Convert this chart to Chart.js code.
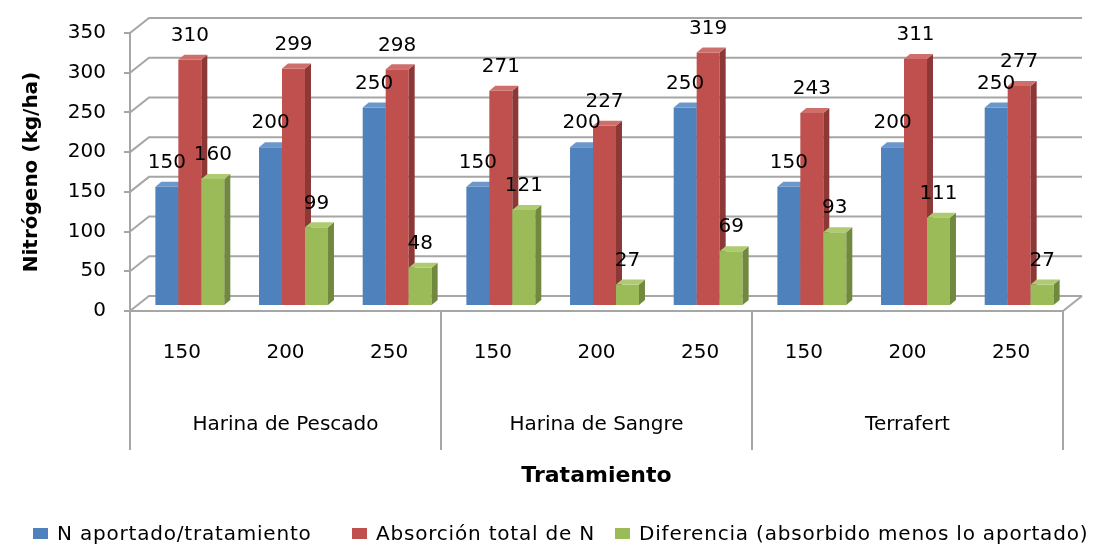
<!DOCTYPE html>
<html>
<head>
<meta charset="utf-8">
<script src="https://cdn.jsdelivr.net/npm/chart.js@4.4.1/dist/chart.umd.min.js"></script>
<style>
html, body { margin: 0; padding: 0; background: #fff; }
</style>
</head>
<body>
<canvas id="graficaNitrogeno" width="1097" height="548"></canvas>
<script>
// datos
const dosis = ['150', '200', '250', '150', '200', '250', '150', '200', '250'];
const tratamientos = ['Harina de Pescado', 'Harina de Sangre', 'Terrafert'];
const nAportado = [150, 200, 250, 150, 200, 250, 150, 200, 250];
const absorcionTotal = [310, 299, 298, 271, 227, 319, 243, 311, 277];
const diferencia = [160, 99, 48, 121, 27, 69, 93, 111, 27];
const series = ['N aportado/tratamiento', 'Absorción total de N', 'Diferencia (absorbido menos lo aportado)'];

const colores = ['#4F81BD', '#C0504D', '#9BBB59'];
const coloresLado = ['#385D8A', '#8C3836', '#71893F'];
const coloresTapa = ['#6C97CB', '#CF6F6C', '#AFCB72'];
const gris = '#A6A6A6';
const fuente = 'DejaVu Sans';

// desplazamientos del efecto 3D
const FONDO_DX = 19, FONDO_DY = -15;   // pared del fondo
const BARRA_DX = 8, BARRA_DY = -5;     // plano donde estan las barras
const PROF_DX = 6, PROF_DY = -5;       // profundidad de cada barra
const LEYENDA_X = [33, 352, 615];      // inicio de cada elemento de la leyenda

const efecto3d = {
    id: 'efecto3d',
    beforeDatasetsDraw(chart) {
        const { ctx, chartArea, scales: { x, y, x2 } } = chart;
        ctx.save();
        ctx.strokeStyle = gris;
        ctx.lineWidth = 2;
        // lineas de la pared del fondo
        y.ticks.forEach(t => {
            const py = y.getPixelForValue(t.value);
            ctx.beginPath();
            ctx.moveTo(chartArea.left, py);
            ctx.lineTo(chartArea.left + FONDO_DX, py + FONDO_DY);
            ctx.lineTo(chartArea.right + FONDO_DX, py + FONDO_DY);
            ctx.stroke();
        });
        // piso
        const p0 = y.getPixelForValue(0);
        ctx.beginPath();
        ctx.moveTo(chartArea.left, p0);
        ctx.lineTo(chartArea.right, p0);
        ctx.lineTo(chartArea.right + FONDO_DX, p0 + FONDO_DY);
        ctx.stroke();
        // separadores de tratamientos
        const anchoCat = x.width / dosis.length;
        for (let g = 0; g <= tratamientos.length; g++) {
            const px = x.left + g * 3 * anchoCat;
            ctx.beginPath();
            ctx.moveTo(px, p0);
            ctx.lineTo(px, x2.top + 64);
            ctx.stroke();
        }
        ctx.restore();
    },
    // el dibujo normal se omite; las barras se pintan en afterDatasetsDraw
    beforeDatasetDraw() {
        return false;
    },
    afterDatasetsDraw(chart) {
        const ctx = chart.ctx;
        ctx.save();
        ctx.translate(BARRA_DX, BARRA_DY);
        chart.data.datasets.forEach((ds, i) => {
            chart.getDatasetMeta(i).data.forEach(el => {
                el.draw(ctx);
                const izq = el.x - el.width / 2;
                const der = el.x + el.width / 2;
                ctx.fillStyle = coloresLado[i];
                ctx.beginPath();
                ctx.moveTo(der, el.y);
                ctx.lineTo(der + PROF_DX, el.y + PROF_DY);
                ctx.lineTo(der + PROF_DX, el.base + PROF_DY);
                ctx.lineTo(der, el.base);
                ctx.closePath();
                ctx.fill();
                ctx.fillStyle = coloresTapa[i];
                ctx.beginPath();
                ctx.moveTo(izq, el.y);
                ctx.lineTo(izq + PROF_DX, el.y + PROF_DY);
                ctx.lineTo(der + PROF_DX, el.y + PROF_DY);
                ctx.lineTo(der, el.y);
                ctx.closePath();
                ctx.fill();
            });
        });
        // etiquetas de valores
        ctx.font = '20px "' + fuente + '"';
        ctx.fillStyle = '#000';
        ctx.textAlign = 'center';
        ctx.textBaseline = 'middle';
        chart.data.datasets.forEach((ds, i) => {
            chart.getDatasetMeta(i).data.forEach((el, j) => {
                ctx.fillText(String(ds.data[j]), el.x, el.y - 24);
            });
        });
        ctx.restore();
    },
    afterDraw(chart) {
        // leyenda
        const ctx = chart.ctx;
        ctx.save();
        ctx.font = '20px "' + fuente + '"';
        ctx.letterSpacing = '0.8px';
        ctx.textAlign = 'left';
        ctx.textBaseline = 'middle';
        chart.data.datasets.forEach((ds, i) => {
            const px = LEYENDA_X[i];
            ctx.fillStyle = colores[i];
            ctx.fillRect(px, 528, 15, 11);
            ctx.fillStyle = '#000';
            ctx.fillText(ds.label, px + 24, 535);
        });
        ctx.restore();
    }
};

const ctx = document.getElementById('graficaNitrogeno').getContext('2d');
const grafica = new Chart(ctx, {
    type: 'bar',
    data: {
        labels: dosis,
        datasets: [
            { label: series[0], data: nAportado, backgroundColor: colores[0] },
            { label: series[1], data: absorcionTotal, backgroundColor: colores[1] },
            { label: series[2], data: diferencia, backgroundColor: colores[2] }
        ]
    },
    options: {
        responsive: false,
        animation: false,
        events: [],
        datasets: {
            bar: { categoryPercentage: 0.665, barPercentage: 1, borderWidth: 0, clip: false }
        },
        layout: { padding: { top: 33, right: 34, bottom: 48, left: 0 } },
        plugins: {
            legend: { display: false },
            tooltip: { enabled: false }
        },
        scales: {
            x: {
                position: 'bottom',
                weight: 0,
                grid: { display: false, drawTicks: false },
                border: { display: false },
                ticks: { color: '#000', font: { family: fuente, size: 20 }, padding: 30, maxRotation: 0 },
                afterFit(scale) { scale.height = 75; }
            },
            x2: {
                type: 'category',
                position: 'bottom',
                weight: 1,
                labels: tratamientos,
                offset: true,
                grid: { display: false, drawTicks: false },
                border: { display: false },
                ticks: { color: '#000', font: { family: fuente, size: 20 }, padding: 27, maxRotation: 0 },
                title: {
                    display: true,
                    text: 'Tratamiento',
                    color: '#000',
                    font: { family: fuente, size: 22, weight: 'bold' },
                    padding: { top: 11, bottom: 11 }
                },
                afterFit(scale) { scale.height = 114; }
            },
            y: {
                min: 0,
                max: 350,
                ticks: { stepSize: 50, color: '#000', font: { family: fuente, size: 20 }, padding: 18 },
                grid: { drawOnChartArea: false, tickLength: 6, color: gris, lineWidth: 2 },
                border: { color: gris, width: 2 },
                title: {
                    display: true,
                    text: 'Nitrógeno (kg/ha)',
                    color: '#000',
                    font: { family: fuente, size: 20, weight: 'bold' },
                    padding: 20
                },
                afterFit(scale) { scale.width = 130; }
            }
        }
    },
    plugins: [efecto3d]
});
</script>
</body>
</html>
